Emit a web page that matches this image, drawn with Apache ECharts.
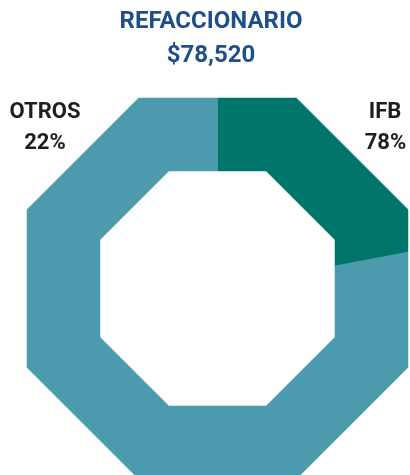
<!DOCTYPE html>
<html>
<head>
<meta charset="utf-8">
<script src="https://cdn.jsdelivr.net/npm/echarts@6/dist/echarts.min.js"></script>
<style>
  html, body { margin: 0; padding: 0; background: #fff; }
  #chart { width: 410px; height: 475px; }
</style>
</head>
<body>
<div id="chart"></div>
<script>
// datos
var titleLines = ['REFACCIONARIO', '$78,520'];
var sliceNames = ['IFB', 'OTROS'];
var sliceValues = [22, 78];          // porcentaje de cada rebanada, en sentido horario desde arriba
var labelNames = ['IFB', 'OTROS'];
var labelPercents = ['78%', '22%'];
var sliceColors = ['#00756a', '#4c9aad'];

// geometria del octagono
var cx = 217.5, cy = 288.5;
var outerA = 190.5, innerA = 117.5;
var STEP = Math.PI / 4;

function octPoint(theta, a) {
    var phi = theta - STEP * Math.round(theta / STEP);
    var r = a / Math.cos(phi);
    return [cx + r * Math.cos(theta), cy - r * Math.sin(theta)];
}

// arco poligonal de t0 a t1 (t0 > t1, sentido horario)
function octArc(t0, t1, a) {
    var pts = [octPoint(t0, a)];
    var k = Math.floor((t0 - STEP / 2) / STEP);
    var v = STEP / 2 + k * STEP;
    while (v > t1) {
        if (v < t0) pts.push(octPoint(v, a));
        v -= STEP;
    }
    pts.push(octPoint(t1, a));
    return pts;
}

var cum = [];
var acc = 0;
for (var i = 0; i < sliceValues.length; i++) {
    cum.push([acc, acc + sliceValues[i]]);
    acc += sliceValues[i];
}

var myChart = echarts.init(document.getElementById('chart'), null, { renderer: 'canvas' });
var option = {
    animation: false,
    series: [{
        type: 'custom',
        coordinateSystem: 'none',
        data: cum,
        renderItem: function (params, api) {
            var s = api.value(0), e = api.value(1);
            var t0 = Math.PI / 2 - s / acc * 2 * Math.PI;
            var t1 = Math.PI / 2 - e / acc * 2 * Math.PI;
            var outer = octArc(t0, t1, outerA);
            var inner = octArc(t0, t1, innerA).reverse();
            return {
                type: 'polygon',
                shape: { points: outer.concat(inner) },
                style: { fill: sliceColors[params.dataIndex], stroke: sliceColors[params.dataIndex], lineWidth: 0.5 }
            };
        }
    }],
    graphic: [
        { type: 'text', x: 211, y: 22, style: { text: titleLines[0], font: 'bold 24px Roboto', fill: '#1f4e89', align: 'center', verticalAlign: 'middle' } },
        { type: 'text', x: 211, y: 55.5, style: { text: titleLines[1], font: 'bold 24px Roboto', fill: '#1f4e89', align: 'center', verticalAlign: 'middle' } },
        { type: 'text', x: 385, y: 112, style: { text: labelNames[0], font: 'bold 22px Roboto', fill: '#1e1e1e', align: 'center', verticalAlign: 'middle' } },
        { type: 'text', x: 385.5, y: 143, style: { text: labelPercents[0], font: 'bold 22px Roboto', fill: '#1e1e1e', align: 'center', verticalAlign: 'middle' } },
        { type: 'text', x: 45, y: 112.5, style: { text: labelNames[1], font: 'bold 22px Roboto', fill: '#1e1e1e', align: 'center', verticalAlign: 'middle' } },
        { type: 'text', x: 45, y: 143.5, style: { text: labelPercents[1], font: 'bold 22px Roboto', fill: '#1e1e1e', align: 'center', verticalAlign: 'middle' } }
    ]
};
myChart.setOption(option);
</script>
</body>
</html>
